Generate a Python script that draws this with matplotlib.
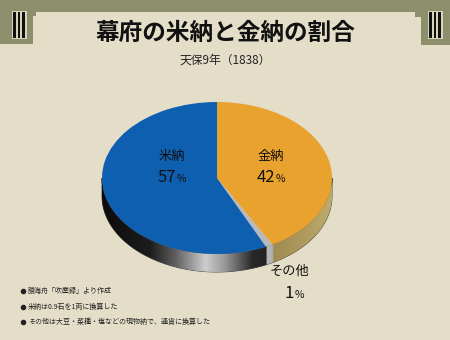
import numpy as np
import matplotlib
matplotlib.use('Agg')
import matplotlib.pyplot as plt
from matplotlib.patches import Polygon, Rectangle

plt.rcParams['font.family'] = ['Noto Sans CJK JP', 'DejaVu Sans']

# データ（天保9年の幕府収入の内訳, %）
labels = ['金納', 'その他', '米納']
shares = [42, 1, 57]
colors = ['#eaa22e', '#b9b9bd', '#0f5fb0']

title = '幕府の米納と金納の割合'
subtitle = '天保9年（1838）'
notes = ['勝海舟「吹塵録」より作成',
         '米納は0.9石を1両に換算した',
         'その他は大豆・菜種・塩などの現物納で、通貨に換算した']

bg = '#e4dec9'
band = '#8c8e6c'

fig = plt.figure(figsize=(4.5, 3.4), dpi=100, facecolor=bg)

# 背景（ピクセル座標）
ax = fig.add_axes([0, 0, 1, 1])
ax.set_xlim(0, 450)
ax.set_ylim(340, 0)
ax.axis('off')
ax.add_patch(Polygon([(0, 0), (450, 0), (450, 45), (421, 45), (421, 17), (415, 17),
                      (415, 12), (36, 12), (36, 16), (33, 16), (33, 44), (0, 44)],
                     closed=True, color=band, lw=0))
for x0 in (12, 428):
    ax.add_patch(Rectangle((x0, 11), 15, 28, color='#d8d2b8', lw=0))
for x0 in (13, 17.5, 22, 429, 433.5, 438):
    ax.add_patch(Rectangle((x0, 12), 2.5, 26, color='#111111', lw=0))

ax.text(225, 33, title, ha='center', va='center', fontsize=17, fontweight='bold', color='#111111')
ax.text(225, 60, subtitle, ha='center', va='center', fontsize=8.5, color='#222222')

for i, note in enumerate(notes):
    y = 291 + i * 15.5
    ax.plot(23, y, 'o', color='#222222', ms=3)
    ax.text(28, y, note, ha='left', va='center', fontsize=5.0, color='#222222')

# 円グラフ（楕円）
cx, cy, rx, ry, depth = 217, 178, 115, 76, 18
dep = depth / ry
pad = 1.1
top_px = cy - pad * ry
bot_px = cy + (pad + dep) * ry
axp = fig.add_axes([(cx - pad * rx) / 450, 1 - bot_px / 340,
                    2 * pad * rx / 450, (bot_px - top_px) / 340])

# 側面
t = np.linspace(np.pi, 2 * np.pi, 200)
side = np.concatenate([np.column_stack([np.cos(t), np.sin(t)]),
                       np.column_stack([np.cos(t[::-1]), np.sin(t[::-1]) - dep])])
side_patch = Polygon(side, closed=True, facecolor='none', edgecolor='#333333', lw=0.6)
axp.add_patch(side_patch)

stops_px = [102, 150, 175, 205, 225, 252, 265.5, 266.5, 272, 273, 300, 332]
stops_rgb = [(12, 12, 12), (28, 28, 28), (95, 95, 95), (205, 205, 205), (150, 150, 150),
             (40, 40, 40), (35, 35, 35), (185, 185, 190), (175, 175, 180),
             (160, 140, 80), (172, 152, 92), (190, 172, 110)]
xs = np.linspace(-1, 1, 400)
px = cx + rx * xs
grad = np.stack([np.interp(px, stops_px, [c[k] for c in stops_rgb]) for k in range(3)], axis=-1) / 255
im = axp.imshow(grad[None, :, :], extent=(-1, 1, -1 - dep, 0), aspect='auto', zorder=1)
im.set_clip_path(side_patch)

# 上面
wedges, _ = axp.pie(shares, colors=colors, startangle=90, counterclock=False,
                    radius=1, wedgeprops=dict(linewidth=0))
for w in wedges:
    w.set_zorder(2)
axp.set_aspect('auto')
axp.set_xlim(-pad, pad)
axp.set_ylim(-pad - dep, pad)
axp.axis('off')

# ラベル（円グラフの上に描くため axp に置き、座標はピクセル）
label_pos = {'米納': (172, 156), '金納': (271, 156), 'その他': (290, 271)}
for name, v in zip(labels, shares):
    lx, ly = label_pos[name]
    axp.text(lx, ly, name, ha='center', va='center', fontsize=9.5, color='#111111',
             zorder=5, transform=ax.transData, clip_on=False)
    num_y = ly + (21 if name != 'その他' else 23)
    axp.text(lx + 4, num_y, str(v), ha='right', va='center', fontsize=12, color='#111111',
             zorder=5, transform=ax.transData, clip_on=False)
    axp.text(lx + 4.5, num_y + 1.5, '%', ha='left', va='center', fontsize=7.5, color='#111111',
             zorder=5, transform=ax.transData, clip_on=False)

fig.savefig('out.png', dpi=100, facecolor=bg)
